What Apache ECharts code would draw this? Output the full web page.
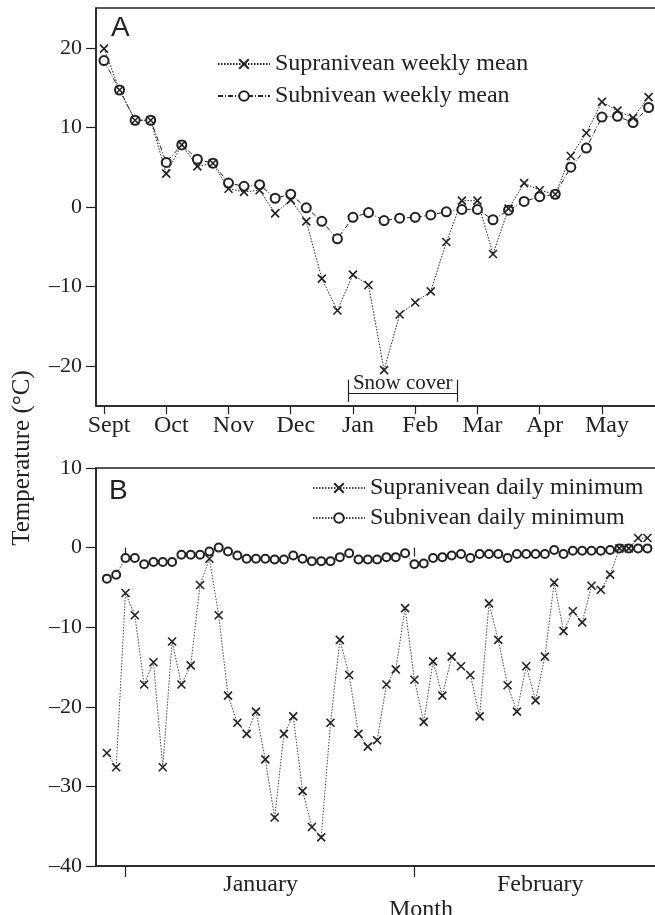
<!DOCTYPE html>
<html><head><meta charset="utf-8">
<script src="https://cdn.jsdelivr.net/npm/echarts@6/dist/echarts.min.js"></script>
<style>html,body{margin:0;padding:0;background:#fff}#c{width:655px;height:915px}</style>
</head><body><div id="c"></div>
<script>
// ---- Panel A: weekly means ----
const monthLabelsA = ['Sept','Oct','Nov','Dec','Jan','Feb','Mar','Apr','May'];
const monthTicksA = [0,4,8,12,16,20,24,28,32];
const yTicksA = [-20,-10,0,10,20];
const supraWeekly = [19.9,14.7,10.9,10.9,4.2,7.8,5.1,5.5,2.3,1.9,2.1,-0.8,0.9,-1.8,-9.0,-13.0,-8.5,-9.8,-20.5,-13.5,-12.0,-10.6,-4.4,0.8,0.8,-5.9,-0.2,3.0,2.1,1.6,6.4,9.3,13.2,12.1,11.2,13.8];
const subWeekly   = [18.4,14.7,10.9,10.9,5.6,7.8,6.0,5.5,3.0,2.6,2.8,1.1,1.6,-0.1,-1.8,-4.0,-1.3,-0.7,-1.7,-1.4,-1.3,-1.0,-0.6,-0.3,-0.3,-1.6,-0.4,0.7,1.3,1.6,5.0,7.4,11.3,11.4,10.6,12.5];
const snowCover = [15.7, 22.7];
const snowLabel = 'Snow cover';

// ---- Panel B: daily minima (day 0 = 1 January) ----
const monthLabelsB = ['January','February'];
const monthTicksB = [0, 31];
const monthLabelPosB = [14.5, 44.5];
const firstDayB = -2;
const supraDaily = [-25.8,-27.6,-5.7,-8.5,-17.2,-14.4,-27.6,-11.8,-17.2,-14.8,
 -4.7,-1.4,-8.5,-18.6,-22.0,-23.4,-20.6,-26.6,-33.9,-23.4,
 -21.2,-30.6,-35.1,-36.4,-22.0,-11.6,-16.0,-23.4,-25.0,-24.2,
 -17.2,-15.3,-7.6,-16.6,-21.9,-14.3,-18.6,-13.7,-14.9,-16.0,
 -21.2,-7.0,-11.6,-17.3,-20.6,-14.9,-19.2,-13.7,-4.4,-10.5,
 -8.0,-9.4,-4.8,-5.3,-3.4,-0.1,-0.1,1.2,1.2];
const subDaily = [-3.9,-3.4,-1.3,-1.3,-2.1,-1.8,-1.8,-1.8,-0.9,-0.9,
 -0.9,-0.5,0.0,-0.5,-1.0,-1.4,-1.4,-1.4,-1.5,-1.5,
 -1.0,-1.4,-1.7,-1.7,-1.7,-1.2,-0.7,-1.5,-1.5,-1.5,
 -1.2,-1.2,-0.7,-2.1,-2.0,-1.3,-1.2,-1.0,-0.8,-1.3,
 -0.8,-0.8,-0.8,-1.3,-0.8,-0.8,-0.8,-0.8,-0.3,-0.8,
 -0.4,-0.4,-0.4,-0.4,-0.3,-0.1,-0.1,-0.1,-0.1];

const INK = '#222';
const SERIF = '"Liberation Serif", "Times New Roman", serif';
const CROSS = 'path://M0,0L10,10M10,0L0,10';
const fmtY = v => v < 0 ? '\u2013' + (-v) : String(v);
const axisLine = {show:true, onZero:false, lineStyle:{color:INK, width:1.5}};

const chart = echarts.init(document.getElementById('c'), null, {renderer:'canvas'});
chart.setOption({
  animation:false,
  backgroundColor:'#fff',
  grid:[
    {left:96, top:8, right:-2, height:398, show:true, borderColor:INK, borderWidth:1.5, outerBoundsMode:'none'},
    {left:96, top:468, right:-2, height:398, show:true, borderColor:INK, borderWidth:1.5, outerBoundsMode:'none'}
  ],
  xAxis:[
    {gridIndex:0, type:'value', min:-0.514, max:35.54, axisLine,
     splitLine:{show:false},
     axisTick:{show:true, customValues:monthTicksA, length:8, lineStyle:{color:INK, width:1.2}},
     axisLabel:{customValues:monthTicksA, formatter:v => monthLabelsA[monthTicksA.indexOf(v)],
       fontFamily:SERIF, fontSize:24, color:INK, margin:8, padding:[0,0,0,10]}},
    {gridIndex:1, type:'value', min:-3.165, max:57.03, axisLine,
     splitLine:{show:false},
     axisTick:{show:true, customValues:monthTicksB, length:11, lineStyle:{color:INK, width:1.2}},
     axisLabel:{customValues:monthLabelPosB, formatter:v => monthLabelsB[monthLabelPosB.indexOf(v)],
       fontFamily:SERIF, fontSize:24, color:INK, margin:7},
     name:'Month', nameLocation:'middle', nameGap:23,
     nameTextStyle:{fontFamily:SERIF, fontSize:24, color:INK, padding:[0,0,0,89]}},
    {gridIndex:1, type:'value', min:-3.165, max:57.03, axisLine:{show:false},
     splitLine:{show:false},
     axisTick:{show:true, inside:true, customValues:monthTicksB, length:9, lineStyle:{color:INK, width:1.2}},
     axisLabel:{show:false}}
  ],
  yAxis:[
    {gridIndex:0, type:'value', min:-25, max:25, axisLine, splitLine:{show:false},
     axisTick:{show:true, customValues:yTicksA, length:10, lineStyle:{color:INK, width:1.2}},
     axisLabel:{customValues:yTicksA, formatter:fmtY, fontFamily:SERIF, fontSize:22, color:INK, margin:14}},
    {gridIndex:1, type:'value', min:-40, max:10, interval:10, axisLine, splitLine:{show:false},
     axisTick:{show:true, length:10, lineStyle:{color:INK, width:1.2}},
     axisLabel:{formatter:fmtY, fontFamily:SERIF, fontSize:22, color:INK, margin:14}}
  ],
  legend:[
    {data:['Supranivean weekly mean','Subnivean weekly mean'], orient:'vertical', left:217, top:52,
     itemWidth:52, itemHeight:12, itemGap:8, padding:0,
     textStyle:{fontFamily:SERIF, fontSize:24, color:INK}},
    {data:['Supranivean daily minimum','Subnivean daily minimum'], orient:'vertical', left:312, top:476,
     itemWidth:52, itemHeight:12, itemGap:6, padding:0,
     textStyle:{fontFamily:SERIF, fontSize:24, color:INK}}
  ],
  series:[
    {name:'Subnivean weekly mean', type:'line', xAxisIndex:0, yAxisIndex:0,
     data:subWeekly.map((v,i)=>[i,v]), symbol:'emptyCircle', symbolSize:9,
     lineStyle:{color:INK, width:1, type:[5,2,1,2]},
     itemStyle:{color:INK, borderColor:INK, borderWidth:1.2}},
    {name:'Supranivean weekly mean', type:'line', xAxisIndex:0, yAxisIndex:0,
     data:supraWeekly.map((v,i)=>[i,v]), symbol:CROSS, symbolSize:8,
     lineStyle:{color:INK, width:1, type:[1.5,1.5]},
     itemStyle:{color:INK, borderColor:INK, borderWidth:1.6},
     markLine:{silent:true, symbol:'none', animation:false,
       lineStyle:{color:INK, width:1.2, type:'solid'},
       data:[
         [{coord:[snowCover[0],-23.4], label:{show:true, position:'middle', formatter:snowLabel, distance:-1,
            fontFamily:SERIF, fontSize:21, color:INK}}, {coord:[snowCover[1],-23.4]}],
         [{coord:[snowCover[0],-21.7], label:{show:false}}, {coord:[snowCover[0],-24.5]}],
         [{coord:[snowCover[1],-21.7], label:{show:false}}, {coord:[snowCover[1],-24.5]}]
       ]}},
    {name:'Subnivean daily minimum', type:'line', xAxisIndex:1, yAxisIndex:1,
     data:subDaily.map((v,i)=>[firstDayB+i,v]), symbol:'emptyCircle', symbolSize:8,
     lineStyle:{color:'#444', width:1, type:[1.5,1.5]},
     itemStyle:{color:INK, borderColor:INK, borderWidth:1.1}},
    {name:'Supranivean daily minimum', type:'line', xAxisIndex:1, yAxisIndex:1,
     data:supraDaily.map((v,i)=>[firstDayB+i,v]), symbol:CROSS, symbolSize:8,
     lineStyle:{color:'#444', width:1, type:[1.5,1.5]},
     itemStyle:{color:INK, borderColor:INK, borderWidth:1.6}}
  ],
  graphic:[
    {type:'text', left:111, top:14, style:{text:'A', font:'28px "Liberation Sans", Arial, sans-serif', fill:INK}},
    {type:'text', left:109, top:477, style:{text:'B', font:'28px "Liberation Sans", Arial, sans-serif', fill:INK}},
    {type:'text', x:22, y:458, rotation:Math.PI/2,
     style:{text:'Temperature (\u00B0C)', font:'25px ' + SERIF, fill:INK, align:'center', verticalAlign:'middle'}}
  ]
});
</script>
</body></html>
